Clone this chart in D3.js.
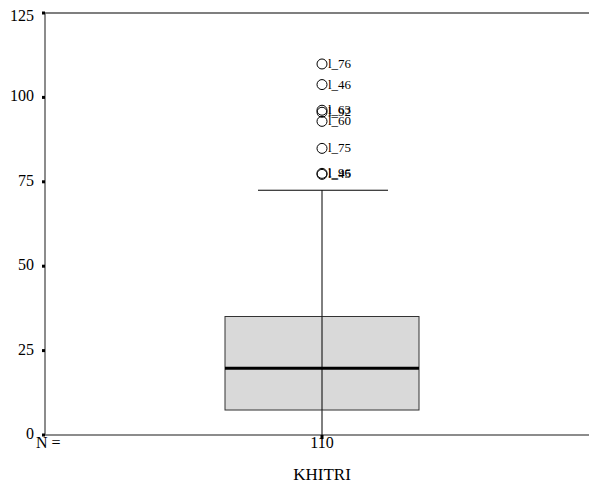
<!DOCTYPE html>
<html><head><meta charset="utf-8">
<script src="https://cdn.jsdelivr.net/npm/d3@7"></script>
<style>body{margin:0;background:#fff}svg{display:block}svg text{font-family:"Liberation Serif","Times New Roman",Times,"DejaVu Serif",serif}</style>
</head><body>
<svg id="c" width="589" height="487"></svg>
<script>
const categories = ["KHITRI"];
const counts = [110];
const q1 = [7.4];
const median = [19.8];
const q3 = [35.1];
const whiskerLow = [0];
const whiskerHigh = [72.5];
const outlierValues = [109.9, 103.8, 96.2, 95.6, 92.9, 84.9, 77.5, 77.2];
const outlierLabels = ["l_76", "l_46", "l_63", "l_92", "l_60", "l_75", "l_96", "l_45"];
const yTicks = [0, 25, 50, 75, 100, 125];

const svg = d3.select("#c");
const y = d3.scaleLinear().domain([0, 125]).range([435, 13]);
const x = d3.scaleBand().domain(categories).range([45, 599]);
const bw = 194;

// frame lines
svg.append("line").attr("x1", 45).attr("x2", 589).attr("y1", y(125)).attr("y2", y(125)).attr("stroke", "#555").attr("stroke-width", 1.5);
svg.append("line").attr("x1", 45).attr("x2", 589).attr("y1", y(0)).attr("y2", y(0)).attr("stroke", "#666").attr("stroke-width", 1.5);
svg.append("line").attr("x1", 45).attr("x2", 45).attr("y1", y(0)).attr("y2", y(125)).attr("stroke", "#666").attr("stroke-width", 1.5);

// y ticks
const yg = svg.append("g");
yTicks.forEach(t => {
  yg.append("rect").attr("x", 42).attr("y", y(t) - 1.5).attr("width", 3).attr("height", 3).attr("fill", "#000");
  yg.append("text").attr("x", 34).attr("y", y(t) + (t === 125 ? 8 : 4)).attr("text-anchor", "end")
    .attr("font-size", 16).attr("fill", "#000").text(t);
});

categories.forEach((c, i) => {
  const cx = x(c) + x.bandwidth() / 2;
  // x tick
  svg.append("rect").attr("x", cx - 1.5).attr("y", y(0)).attr("width", 3).attr("height", 4).attr("fill", "#000");
  // whisker
  svg.append("line").attr("x1", cx).attr("x2", cx).attr("y1", y(whiskerLow[i])).attr("y2", y(whiskerHigh[i])).attr("stroke", "#000").attr("stroke-width", 1);
  svg.append("line").attr("x1", cx - 64).attr("x2", cx + 66).attr("y1", y(whiskerHigh[i])).attr("y2", y(whiskerHigh[i])).attr("stroke", "#000").attr("stroke-width", 1);
  // box
  svg.append("rect").attr("x", cx - bw / 2).attr("y", y(q3[i])).attr("width", bw).attr("height", y(q1[i]) - y(q3[i]))
    .attr("fill", "#d9d9d9").attr("stroke", "#333").attr("stroke-width", 1);
  svg.append("line").attr("x1", cx).attr("x2", cx).attr("y1", y(q3[i])).attr("y2", y(q1[i])).attr("stroke", "#000").attr("stroke-width", 1);
  svg.append("line").attr("x1", cx - bw / 2).attr("x2", cx + bw / 2).attr("y1", y(median[i])).attr("y2", y(median[i])).attr("stroke", "#000").attr("stroke-width", 3);
  // outliers
  outlierValues.forEach((v, k) => {
    svg.append("circle").attr("cx", cx).attr("cy", y(v)).attr("r", 5).attr("fill", "none").attr("stroke", "#000").attr("stroke-width", 1);
    svg.append("text").attr("x", cx + 6).attr("y", y(v) + 4).attr("font-size", 13).attr("fill", "#000").text(outlierLabels[k]);
  });
  // N
  svg.append("text").attr("x", cx).attr("y", 448).attr("text-anchor", "middle").attr("font-size", 16).text(counts[i]);
  svg.append("text").attr("x", cx).attr("y", 480).attr("text-anchor", "middle").attr("font-size", 17).text(c);
});
svg.append("text").attr("x", 36).attr("y", 448).attr("font-size", 16).text("N =");
</script>
</body></html>
